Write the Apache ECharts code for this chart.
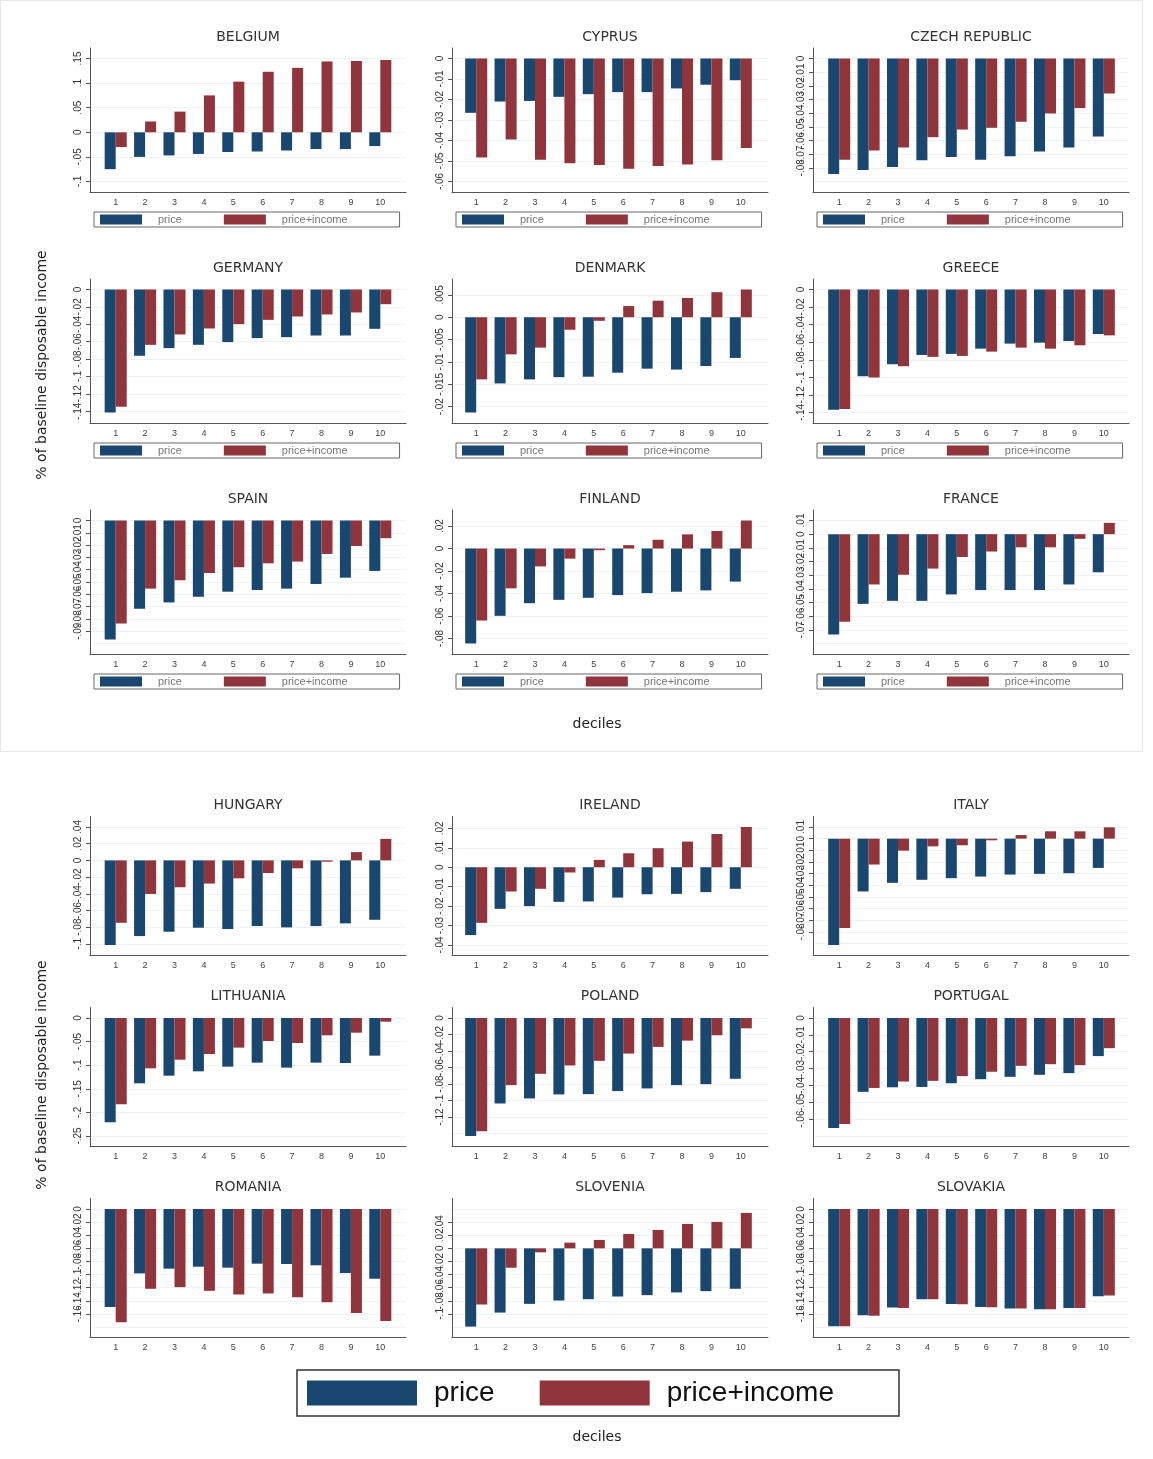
<!DOCTYPE html>
<html>
<head>
<meta charset="utf-8">
<script src="https://cdn.jsdelivr.net/npm/echarts@6/dist/echarts.min.js"></script>
<style>
  html, body { margin: 0; padding: 0; background: #fff; }
  #chart { width: 1153px; height: 1459px; }
</style>
</head>
<body>
<div id="chart"></div>
<script>
const deciles = ['1', '2', '3', '4', '5', '6', '7', '8', '9', '10']
const countries = ['BELGIUM', 'CYPRUS', 'CZECH REPUBLIC', 'GERMANY', 'DENMARK', 'GREECE',
  'SPAIN', 'FINLAND', 'FRANCE', 'HUNGARY', 'IRELAND', 'ITALY',
  'LITHUANIA', 'POLAND', 'PORTUGAL', 'ROMANIA', 'SLOVENIA', 'SLOVAKIA']

// price / price+income, share of baseline disposable income, by decile
const priceBE = [-0.075, -0.050, -0.047, -0.044, -0.040, -0.039, -0.037, -0.034, -0.034, -0.028]
const incomeBE = [-0.030, 0.022, 0.042, 0.075, 0.103, 0.123, 0.131, 0.144, 0.145, 0.147]
const priceCY = [-0.0265, -0.021, -0.0207, -0.0187, -0.0174, -0.0164, -0.0164, -0.0146, -0.0128, -0.0106]
const incomeCY = [-0.0483, -0.0395, -0.0494, -0.0511, -0.052, -0.0538, -0.0524, -0.0517, -0.0496, -0.0437]
const priceCZ = [-0.0846, -0.0815, -0.0793, -0.0744, -0.072, -0.0741, -0.0715, -0.068, -0.0651, -0.0571]
const incomeCZ = [-0.0741, -0.0673, -0.0651, -0.0576, -0.052, -0.0507, -0.0463, -0.0402, -0.0363, -0.0256]
const priceDE = [-0.1414, -0.0762, -0.0674, -0.0636, -0.0605, -0.0559, -0.0548, -0.0529, -0.0529, -0.0452]
const incomeDE = [-0.1349, -0.0636, -0.0517, -0.0448, -0.0398, -0.0349, -0.031, -0.0287, -0.0264, -0.0169]
const priceDK = [-0.0213, -0.0148, -0.0139, -0.0134, -0.0133, -0.0124, -0.0115, -0.0117, -0.0109, -0.0091]
const incomeDK = [-0.0139, -0.0083, -0.0068, -0.0028, -0.0008, 0.0025, 0.0037, 0.0043, 0.0056, 0.0062]
const priceGR = [-0.1369, -0.0987, -0.0851, -0.0745, -0.0733, -0.0673, -0.0616, -0.0605, -0.0586, -0.0507]
const incomeGR = [-0.1361, -0.1002, -0.0873, -0.0767, -0.0756, -0.0707, -0.0662, -0.0673, -0.0635, -0.0522]
const priceES = [-0.0967, -0.0717, -0.0666, -0.062, -0.0579, -0.0565, -0.0554, -0.0516, -0.0465, -0.041]
const incomeES = [-0.0837, -0.0554, -0.0486, -0.0427, -0.038, -0.0348, -0.0334, -0.0272, -0.0207, -0.0144]
const priceFI = [-0.0844, -0.0598, -0.0486, -0.0456, -0.0438, -0.0414, -0.0396, -0.0384, -0.0372, -0.0294]
const incomeFI = [-0.064, -0.0354, -0.0159, -0.009, -0.0015, 0.003, 0.0078, 0.0126, 0.0156, 0.0249]
const priceFR = [-0.0735, -0.051, -0.0488, -0.0488, -0.0441, -0.0409, -0.0409, -0.0409, -0.0368, -0.0279]
const incomeFR = [-0.064, -0.0368, -0.0297, -0.0252, -0.0167, -0.0127, -0.0096, -0.0096, -0.0034, 0.0083]
const priceHU = [-0.1014, -0.0907, -0.0855, -0.0807, -0.0823, -0.0787, -0.0803, -0.0787, -0.0755, -0.0712]
const incomeHU = [-0.0748, -0.0402, -0.0322, -0.0278, -0.0215, -0.0151, -0.0095, -0.0016, 0.0099, 0.0258]
const priceIE = [-0.0349, -0.0214, -0.02, -0.0178, -0.0176, -0.0156, -0.0139, -0.0137, -0.0128, -0.0111]
const incomeIE = [-0.0286, -0.0125, -0.0111, -0.0027, 0.0038, 0.0072, 0.0098, 0.0132, 0.0171, 0.0207]
const priceIT = [-0.0912, -0.0453, -0.0379, -0.0353, -0.0339, -0.0325, -0.0308, -0.0302, -0.0296, -0.0251]
const incomeIT = [-0.0766, -0.0222, -0.0103, -0.0066, -0.0057, -0.0014, 0.0031, 0.0063, 0.0063, 0.0097]
const priceLT = [-0.221, -0.1384, -0.1222, -0.113, -0.1031, -0.0946, -0.1052, -0.0946, -0.0953, -0.0798]
const incomeLT = [-0.1829, -0.1066, -0.0883, -0.0763, -0.0628, -0.0487, -0.053, -0.0367, -0.0311, -0.0078]
const pricePL = [-0.1429, -0.1034, -0.0974, -0.0926, -0.0922, -0.0885, -0.0853, -0.0813, -0.0801, -0.0736]
const incomePL = [-0.1372, -0.0813, -0.0676, -0.0575, -0.0519, -0.0431, -0.035, -0.0274, -0.0209, -0.0125]
const pricePT = [-0.0653, -0.0438, -0.0411, -0.0409, -0.0387, -0.0363, -0.0349, -0.0337, -0.0327, -0.0226]
const incomePT = [-0.0629, -0.0415, -0.0377, -0.0373, -0.0345, -0.0319, -0.0284, -0.0274, -0.028, -0.0179]
const priceRO = [-0.1494, -0.0982, -0.091, -0.088, -0.0895, -0.0834, -0.0839, -0.0859, -0.0977, -0.1064]
const incomeRO = [-0.1729, -0.1217, -0.1192, -0.1248, -0.1304, -0.1289, -0.1345, -0.1422, -0.1586, -0.1708]
const priceSI = [-0.1194, -0.098, -0.0847, -0.0796, -0.0776, -0.0735, -0.0714, -0.0673, -0.0653, -0.0617]
const incomeSI = [-0.0857, -0.0296, -0.0061, 0.0087, 0.0128, 0.022, 0.0281, 0.0372, 0.0403, 0.0541]
const priceSK = [-0.179, -0.1621, -0.1504, -0.1376, -0.1448, -0.1494, -0.1519, -0.1529, -0.1509, -0.133]
const incomeSK = [-0.179, -0.1627, -0.1509, -0.1376, -0.1453, -0.1499, -0.1519, -0.1529, -0.1509, -0.132]

// y tick values of each panel
const ticksBE = [-0.1, -0.05, 0, 0.05, 0.1, 0.15]
const ticksCY = [-0.06, -0.05, -0.04, -0.03, -0.02, -0.01, 0]
const ticksCZ = [-0.09, -0.08, -0.07, -0.06, -0.05, -0.04, -0.03, -0.02, -0.01, 0]
const ticksDE = [-0.14, -0.12, -0.1, -0.08, -0.06, -0.04, -0.02, 0]
const ticksDK = [-0.02, -0.015, -0.01, -0.005, 0, 0.005]
const ticksGR = [-0.14, -0.12, -0.1, -0.08, -0.06, -0.04, -0.02, 0]
const ticksES = [-0.1, -0.09, -0.08, -0.07, -0.06, -0.05, -0.04, -0.03, -0.02, -0.01, 0]
const ticksFI = [-0.08, -0.06, -0.04, -0.02, 0, 0.02]
const ticksFR = [-0.08, -0.07, -0.06, -0.05, -0.04, -0.03, -0.02, -0.01, 0, 0.01]
const ticksHU = [-0.1, -0.08, -0.06, -0.04, -0.02, 0, 0.02, 0.04]
const ticksIE = [-0.04, -0.03, -0.02, -0.01, 0, 0.01, 0.02]
const ticksIT = [-0.09, -0.08, -0.07, -0.06, -0.05, -0.04, -0.03, -0.02, -0.01, 0, 0.01]
const ticksLT = [-0.25, -0.2, -0.15, -0.1, -0.05, 0]
const ticksPL = [-0.14, -0.12, -0.1, -0.08, -0.06, -0.04, -0.02, 0]
const ticksPT = [-0.07, -0.06, -0.05, -0.04, -0.03, -0.02, -0.01, 0]
const ticksRO = [-0.18, -0.16, -0.14, -0.12, -0.1, -0.08, -0.06, -0.04, -0.02, 0]
const ticksSI = [-0.12, -0.1, -0.08, -0.06, -0.04, -0.02, 0, 0.02, 0.04, 0.06]
const ticksSK = [-0.18, -0.16, -0.14, -0.12, -0.1, -0.08, -0.06, -0.04, -0.02, 0]

const priceData = [priceBE, priceCY, priceCZ, priceDE, priceDK, priceGR, priceES, priceFI, priceFR,
  priceHU, priceIE, priceIT, priceLT, pricePL, pricePT, priceRO, priceSI, priceSK]
const incomeData = [incomeBE, incomeCY, incomeCZ, incomeDE, incomeDK, incomeGR, incomeES, incomeFI, incomeFR,
  incomeHU, incomeIE, incomeIT, incomeLT, incomePL, incomePT, incomeRO, incomeSI, incomeSK]
const yTicks = [ticksBE, ticksCY, ticksCZ, ticksDE, ticksDK, ticksGR, ticksES, ticksFI, ticksFR,
  ticksHU, ticksIE, ticksIT, ticksLT, ticksPL, ticksPT, ticksRO, ticksSI, ticksSK]

const BLUE = '#1a476f'
const RED = '#90353b'
const FONT = '"Liberation Sans", Arial, sans-serif'
const WIDE = '"DejaVu Sans", Verdana, sans-serif'

// panel layout (frame = stata plot region, plot = where the bars sit)
const frameLeft = [90, 452, 813]
const frameW = 316
const plotLeft = [101, 461.5, 824.5]
const plotW = 294
const rowTop = [48, 279, 510, 816.5, 1007.5, 1198.5]
const rowH = [144, 144, 144, 139, 139, 139]
const pad = 10.5

// stata style tick label: -.05, .15, 0
const fmt = v => {
  if (Math.abs(v) < 1e-9) return '0'
  return String(+v.toFixed(4)).replace('0.', '.')
}

const grid = []
const xAxis = []
const yAxis = []
const series = []
const legend = []
const graphic = []

countries.forEach((name, i) => {
  const r = Math.floor(i / 3)
  const c = i % 3
  const top = rowTop[r]
  const h = rowH[r]
  const t = yTicks[i]
  const lo = Math.min(t[0], ...priceData[i], ...incomeData[i])
  const hi = Math.max(t[t.length - 1], ...priceData[i], ...incomeData[i])
  const ext = (hi - lo) * pad / (h - 2 * pad)
  const min = lo - ext
  const max = hi + ext
  const g = grid.length

  grid.push({ left: frameLeft[c], top, width: frameW, height: h })
  grid.push({ left: plotLeft[c], top, width: plotW, height: h })

  xAxis.push({
    type: 'value',
    gridIndex: g,
    min: 0,
    max: 1,
    axisLine: { show: true, onZero: false, lineStyle: { color: '#555', width: 1 } },
    axisTick: { show: false },
    axisLabel: { show: false },
    splitLine: { show: false }
  })
  xAxis.push({
    type: 'category',
    gridIndex: g + 1,
    data: deciles,
    axisLine: { show: false, onZero: false },
    axisTick: { show: false },
    axisLabel: { interval: 0, fontSize: 9, color: '#444', margin: 6, fontFamily: FONT }
  })
  yAxis.push({
    type: 'value',
    gridIndex: g,
    min,
    max,
    axisLine: { show: true, onZero: false, lineStyle: { color: '#555', width: 1 } },
    axisTick: { show: true, length: 4, customValues: t, lineStyle: { color: '#555' } },
    axisLabel: { customValues: t, rotate: 90, formatter: fmt, fontSize: 10, color: '#333', margin: 7, fontFamily: FONT },
    splitLine: { show: true, lineStyle: { color: '#edf2f4', width: 1 } }
  })
  yAxis.push({ type: 'value', gridIndex: g + 1, min, max, show: false })

  series.push({
    name: 'price',
    type: 'bar',
    xAxisIndex: g + 1,
    yAxisIndex: g + 1,
    barGap: '0%',
    barCategoryGap: '25%',
    itemStyle: { color: BLUE },
    data: priceData[i]
  })
  series.push({
    name: 'price+income',
    type: 'bar',
    xAxisIndex: g + 1,
    yAxisIndex: g + 1,
    barGap: '0%',
    barCategoryGap: '25%',
    itemStyle: { color: RED },
    data: incomeData[i]
  })

  graphic.push({
    type: 'text',
    x: frameLeft[c] + frameW / 2,
    y: top - 11,
    style: { text: name, font: '14px ' + WIDE, fill: '#333', textAlign: 'center', textVerticalAlign: 'middle' }
  })

  // small legend under each panel of the upper block
  if (r < 3) {
    legend.push({
      left: frameLeft[c] + 4,
      top: top + h + 20,
      orient: 'horizontal',
      icon: 'rect',
      itemWidth: 42,
      itemHeight: 10,
      itemGap: 42,
      padding: [2, 52, 2, 6],
      borderColor: '#666',
      borderWidth: 1,
      borderRadius: 0,
      textStyle: { fontSize: 11, color: '#777', fontFamily: FONT, padding: [0, 0, 0, 11] },
      data: ['price', 'price+income']
    })
  }
})

// big shared legend of the lower block
legend.push({
  left: 297,
  top: 1370,
  orient: 'horizontal',
  icon: 'rect',
  itemWidth: 110,
  itemHeight: 25,
  itemGap: 45,
  padding: [9, 65, 9, 10],
  borderColor: '#333',
  borderWidth: 1.5,
  borderRadius: 0,
  textStyle: { fontSize: 28, color: '#111', fontFamily: FONT, padding: [0, 0, 0, 12] },
  data: ['price', 'price+income']
})

// light frame of the upper block
graphic.push({
  type: 'rect',
  shape: { x: 0.5, y: 0.5, width: 1142, height: 751 },
  style: { fill: 'none', stroke: '#e6e6e6', lineWidth: 1 },
  z: -1
})

const yTitle = '% of baseline disposable income'
;[365, 1075].forEach(y => {
  graphic.push({
    type: 'text',
    x: 42,
    y,
    rotation: Math.PI / 2,
    style: { text: yTitle, font: '14px ' + WIDE, fill: '#222', textAlign: 'center', textVerticalAlign: 'middle' }
  })
})
;[724, 1437].forEach(y => {
  graphic.push({
    type: 'text',
    x: 597,
    y,
    style: { text: 'deciles', font: '14px ' + WIDE, fill: '#222', textAlign: 'center', textVerticalAlign: 'middle' }
  })
})

const option = {
  backgroundColor: '#fff',
  animation: false,
  grid,
  xAxis,
  yAxis,
  series,
  legend,
  graphic
}

const myChart = echarts.init(document.getElementById('chart'))
myChart.setOption(option)
</script>
</body>
</html>
